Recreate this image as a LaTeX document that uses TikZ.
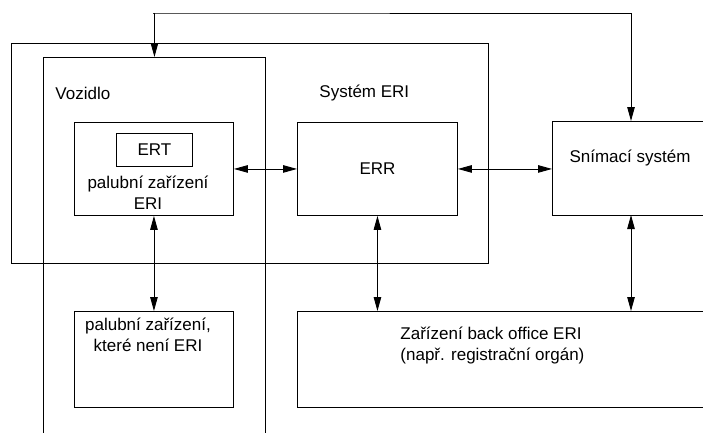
\documentclass[tikz,border=0pt]{standalone}
\usepackage{fontspec}
\setmainfont{Liberation Sans}
\usetikzlibrary{arrows.meta}

\begin{document}
\begin{tikzpicture}[
            x = 1pt, y = -1pt, % pixel units, y runs down
            > = {Triangle[length=14pt, width=7.5pt]}, % arrow head style
            line width = 0.9pt, % line style
            font = \fontsize{17}{21}\selectfont
        ]

        \tikzstyle{box}=[
            draw = black,
            anchor = north west,
            inner sep = 0pt
        ]
        \tikzstyle{txt}=[
            inner sep = 0pt,
            align = center
        ]

        \useasboundingbox (0,0) rectangle (703,432);
        \clip (0,0) rectangle (703,432);

	% frames
	\node[box, minimum width=477pt, minimum height=220pt] (sys) at (11,43) {};
	\node[box, minimum width=222pt, minimum height=420pt] (voz) at (43,57) {};
	\node[txt, anchor=west] (vozname) at (55,93) {Vozidlo};
	\node[txt, anchor=west] (sysname) at (319,93) {Systém ERI};

	% boxes
	\node[box, minimum width=159pt, minimum height=93pt] (pal) at (74,122) {};
	\node[box, minimum width=76pt, minimum height=33pt] (ert) at (116,133) {ERT};
	\node[txt] (paltext) at (148,193) {palubní zařízení\\ERI};
	\node[box, minimum width=160pt, minimum height=93pt] (err) at (297,122) {ERR};
	\node[box, minimum width=200pt, minimum height=94pt] (snim) at (552,121) {};
	\node[txt] (snimtext) at (630,158) {Snímací systém};
	\node[box, minimum width=159pt, minimum height=96pt] (other) at (74,311) {};
	\node[txt, anchor=north] (othertext) at (148,318) {palubní zařízení,\\které není ERI};
	\node[box, minimum width=450pt, minimum height=96pt] (back) at (297,311) {};
	\node[txt, anchor=west, align=left] (backtext) at (400,345) {Zařízení back office ERI\\(např. registrační orgán)};

	\coordinate (snimtop) at (631,121);
	\coordinate (snimbot) at (631,215);

        \draw[<->] (voz.north) |- (153,13) -| (snimtop);
        \draw[<->] (pal.east) -- (err.west);
        \draw[<->] (err.east) -- (err.east -| snim.west);
        \draw[<->] (pal.south) -- (other.north -| pal.south);
        \draw[<->] (err.south) -- (err.south |- back.north);
        \draw[<->] (snimbot) -- (snimbot |- back.north);

    \end{tikzpicture}
\end{document}
